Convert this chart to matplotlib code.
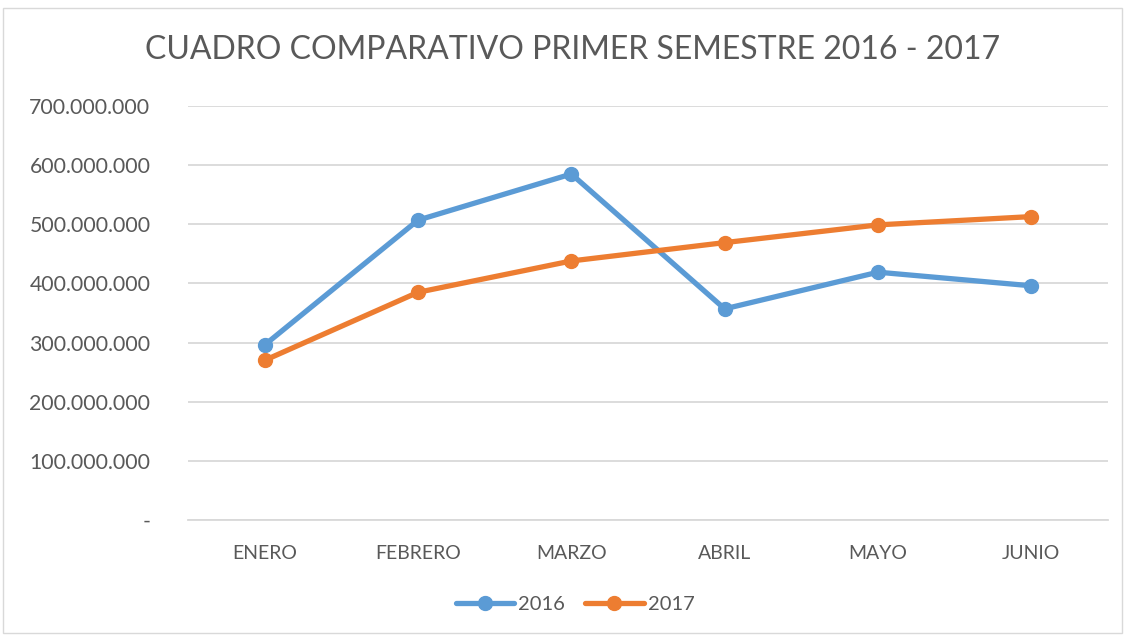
import matplotlib
matplotlib.use("Agg")
import matplotlib.pyplot as plt
from matplotlib.ticker import FuncFormatter, MultipleLocator
from matplotlib.patches import Rectangle

months = ["ENERO", "FEBRERO", "MARZO", "ABRIL", "MAYO", "JUNIO"]
values_2016 = [296e6, 507e6, 585e6, 357e6, 419e6, 396e6]
values_2017 = [270e6, 385e6, 438e6, 469e6, 499e6, 513e6]
series_labels = ["2016", "2017"]
title = "CUADRO COMPARATIVO PRIMER SEMESTRE 2016 - 2017"

plt.rcParams['font.family'] = ['Lato', 'DejaVu Sans']
text_color = "#595959"
blue = "#5B9BD5"
orange = "#ED7D31"

fig = plt.figure(figsize=(11.25, 6.35), dpi=100)
fig.patch.set_facecolor("white")
fig.add_artist(Rectangle((3/1125, 2/635), 1119/1125, 625/635, transform=fig.transFigure,
                         fill=False, edgecolor="#d9d9d9", linewidth=1.0))

ax = fig.add_axes([188/1125, 1-520/635, 920/1125, 414/635])
x = list(range(len(months)))
ax.plot(x, values_2016, color=blue, lw=3.8, marker="o", ms=10, label=series_labels[0],
        solid_capstyle="round", zorder=3)
ax.plot(x, values_2017, color=orange, lw=3.8, marker="o", ms=10, label=series_labels[1],
        solid_capstyle="round", zorder=3)

ax.set_xlim(-0.5, len(months) - 0.5)
ax.set_ylim(0, 700e6)
ax.yaxis.set_major_locator(MultipleLocator(100e6))

def fmt(v, pos):
    if abs(v) < 1:
        return "-"
    return f"{int(round(v)):,}".replace(",", ".")

ax.yaxis.set_major_formatter(FuncFormatter(fmt))
ax.set_xticks(x)
ax.set_xticklabels(months)
ax.grid(axis="y", color="#d9d9d9", lw=1.3)
ax.set_axisbelow(True)
for s in ["top", "right", "left"]:
    ax.spines[s].set_visible(False)
ax.spines["bottom"].set_color("#d9d9d9")
ax.spines["bottom"].set_linewidth(1.3)
ax.tick_params(axis="both", length=0, colors=text_color)
ax.tick_params(axis="y", pad=27, labelsize=15.3)
ax.tick_params(axis="x", pad=18, labelsize=14)
for lbl in ax.get_yticklabels():
    lbl.set_horizontalalignment("right")

fig.text(573/1125, 1-50/635, title, ha="center", va="center", fontsize=23, color=text_color)

leg = fig.legend(loc="center", bbox_to_anchor=(575/1125, 1-604/635), ncol=2, frameon=False,
                 fontsize=14.5, handlelength=2.9, columnspacing=1.0, handletextpad=0.2)
for t in leg.get_texts():
    t.set_color(text_color)

fig.savefig("out.png", dpi=100)
